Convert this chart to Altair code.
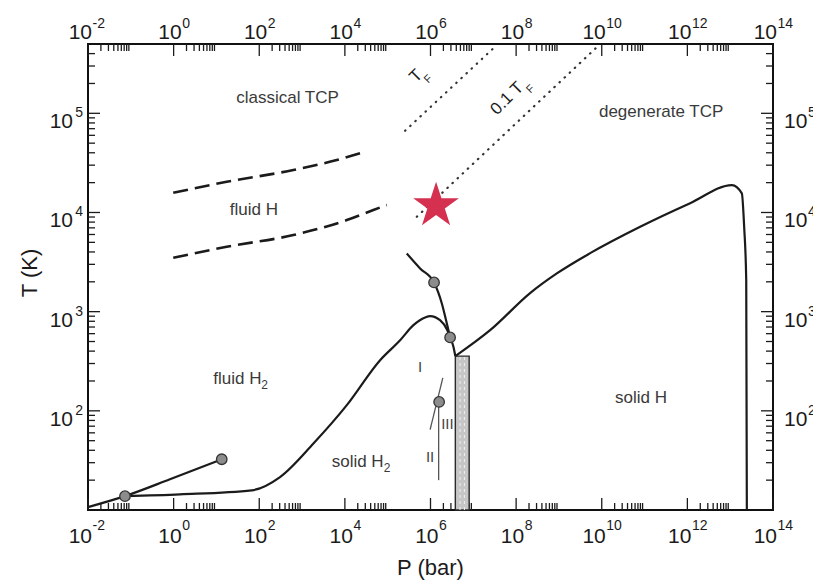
import altair as alt
import pandas as pd

W, H = 685, 466
FONT = "Liberation Sans"
INK = "#1b1b1b"
GREY_TXT = "#3a3a3a"

# ---------------- data ----------------
# sublimation + vaporisation curve (ends at the critical point)
vap_P = [0.01, 0.073, 0.82, 13.3]
vap_T = [10.7, 13.8, 20.4, 32.5]

# melting curve of H2 (from the triple point to the top of the shaded bar)
melt_P = [0.073, 1.41, 67, 306, 1840, 1.11e4, 6.64e4, 1.95e5, 3.99e5, 7.48e5,
          9.79e5, 1.67e6, 2.48e6, 2.87e6, 3.43e6, 3.8e6]
melt_T = [13.8, 14.4, 15.8, 21.5, 46.8, 114, 324, 515, 731, 873,
          902, 820, 650, 550, 442, 356]

# upper boundary coming down from high temperature
upper_P = [2.79e5, 5.71e5, 1.21e6, 1.84e6, 2.31e6, 2.87e6]
upper_T = [3860, 2730, 1970, 1210, 820, 550]

# solid H boundary
solidH_P = [3.8e6, 2.47e7, 2.12e8, 8.93e8, 5.36e9, 7.89e10, 1.16e12,
            1.10e13, 1.87e13, 2.12e13, 2.37e13, 2.45e13]
solidH_T = [356, 650, 1540, 2430, 3890, 7180, 12400,
            18900, 15600, 7180, 2080, 10]

# dashed boundaries of "fluid H"
dashU_P = [0.98, 17.4, 627, 6470, 2.48e4]
dashU_T = [15800, 20400, 26800, 33800, 40000]
dashL_P = [0.98, 17.4, 627, 1.11e4, 4.63e4, 9.53e4]
dashL_T = [3490, 4510, 5920, 8380, 10600, 11900]

# dotted Fermi-temperature lines
tf_P = [2.55e5, 2.95e7]
tf_T = [6.67e4, 4.53e5]
tf01_P = [4.79e5, 8.24e9]
tf01_T = [9060, 4.78e5]

# thin lines between solid phases I, II, III
thinA_P = [9.79e5, 1.94e6]
thinA_T = [64.7, 215]
thinB_P = [1.55e6, 1.55e6]
thinB_T = [120, 20]

# grey circles (triple, critical and other special points)
pts_P = [0.073, 13.3, 1.21e6, 2.87e6, 1.59e6]
pts_T = [13.8, 32.5, 1970, 550, 123]

# red star
star_P = [1.35e6]
star_T = [11700]

# shaded pressure band
bar_P = [3.8e6]
bar_P2 = [8.0e6]
bar_T = [10]
bar_T2 = [356]
bar_hatch_P = [4.9e6, 6.2e6]

# region labels
lab_center_txt = ["classical TCP", "degenerate TCP", "fluid H", "solid H"]
lab_center_P = [458, 2.44e11, 74.8, 8.3e10]
lab_center_T = [1.26e5, 9.25e4, 9420, 119]
lab_sub_txt = ["fluid H", "solid H"]
lab_sub_P = [8.47, 4920]
lab_sub_T = [188, 27.2]
roman_txt = ["I", "II", "III"]
roman_P = [5.7e5, 9.8e5, 2.48e6]
roman_T = [276, 34.3, 73.3]

# tick labels
x_lab_P = [1e-2, 1, 1e2, 1e4, 1e6, 1e8, 1e10, 1e12, 1e14]
x_lab_exp = ["-2", "0", "2", "4", "6", "8", "10", "12", "14"]
y_lab_T = [1e2, 1e3, 1e4, 1e5]
y_lab_exp = ["2", "3", "4", "5"]

x_major = x_lab_P
x_minor = [k * 10.0 ** e for e in range(-2, 14, 2) for k in range(2, 10)]
y_major = y_lab_T
y_minor = [k * 10.0 ** e for e in range(1, 6) for k in range(2, 10) if k * 10.0 ** e < 5e5]

# ---------------- helpers ----------------
xs = alt.Scale(type="log", domain=[1e-2, 1e14], nice=False)
ys = alt.Scale(type="log", domain=[10, 5e5], nice=False)


def X(f="P"):
    return alt.X(f"{f}:Q", scale=xs, axis=None)


def Y(f="T"):
    return alt.Y(f"{f}:Q", scale=ys, axis=None)


def curves(items):
    frames = []
    for name, P, T in items:
        frames.append(pd.DataFrame({"P": P, "T": T, "curve": name, "i": range(len(P))}))
    return pd.concat(frames, ignore_index=True)


# ---------------- ticks (inward) ----------------
xmaj = pd.DataFrame({"P": x_major})
xmin = pd.DataFrame({"P": x_minor})
ymaj = pd.DataFrame({"T": y_major})
ymin = pd.DataFrame({"T": y_minor})

tick_layers = []
for d, L in ((xmaj, 12), (xmin, 7)):
    tick_layers.append(alt.Chart(d).mark_rule(color=INK, strokeWidth=1.3).encode(
        x=X(), y=alt.value(H), y2=alt.value(H - L)))
    tick_layers.append(alt.Chart(d).mark_rule(color=INK, strokeWidth=1.3).encode(
        x=X(), y=alt.value(0), y2=alt.value(L)))
for d, L in ((ymaj, 12), (ymin, 7)):
    tick_layers.append(alt.Chart(d).mark_rule(color=INK, strokeWidth=1.3).encode(
        y=Y(), x=alt.value(0), x2=alt.value(L)))
    tick_layers.append(alt.Chart(d).mark_rule(color=INK, strokeWidth=1.3).encode(
        y=Y(), x=alt.value(W), x2=alt.value(W - L)))

# ---------------- tick labels ----------------
xlab = pd.DataFrame({"P": x_lab_P, "exp": x_lab_exp})
xlab["n"] = xlab["exp"].str.len()
label_layers = []
for n, dxj in ((1, 8), (2, 4)):
    d = xlab[xlab["n"] == n]
    for yb, ye in ((H + 33, H + 20), (-5, -16)):
        label_layers.append(alt.Chart(d).mark_text(
            text="10", align="right", baseline="alphabetic", fontSize=21, font=FONT,
            color=INK, dx=dxj).encode(x=X(), y=alt.value(yb)))
        label_layers.append(alt.Chart(d).mark_text(
            align="left", baseline="alphabetic", fontSize=14, font=FONT,
            color=INK, dx=dxj + 0.5).encode(x=X(), y=alt.value(ye), text="exp:N"))

ylab = pd.DataFrame({"T": y_lab_T, "exp": y_lab_exp})
label_layers += [
    alt.Chart(ylab).mark_text(text="10", align="right", baseline="alphabetic",
                              fontSize=21, font=FONT, color=INK, dy=15).encode(
        x=alt.value(-15), y=Y()),
    alt.Chart(ylab).mark_text(align="right", baseline="alphabetic",
                              fontSize=14, font=FONT, color=INK, dy=4).encode(
        x=alt.value(-5), y=Y(), text="exp:N"),
    alt.Chart(ylab).mark_text(text="10", align="left", baseline="alphabetic",
                              fontSize=21, font=FONT, color=INK, dy=15).encode(
        x=alt.value(W + 11), y=Y()),
    alt.Chart(ylab).mark_text(align="left", baseline="alphabetic",
                              fontSize=14, font=FONT, color=INK, dy=4).encode(
        x=alt.value(W + 35), y=Y(), text="exp:N"),
]

# axis titles
titles = [
    alt.Chart(pd.DataFrame({"t": ["P (bar)"]})).mark_text(
        fontSize=22, font=FONT, color=INK, align="center", baseline="alphabetic").encode(
        x=alt.value(W / 2), y=alt.value(H + 65), text="t:N"),
    alt.Chart(pd.DataFrame({"t": ["T (K)"]})).mark_text(
        fontSize=22, font=FONT, color=INK, align="center", baseline="alphabetic",
        angle=270).encode(x=alt.value(-51), y=alt.value(229), text="t:N"),
]

# ---------------- plot content ----------------
bar = alt.Chart(pd.DataFrame({"P": bar_P, "P2": bar_P2, "T": bar_T, "T2": bar_T2})).mark_rect(
    fill="#c6c6c6", stroke="#2a2a2a", strokeWidth=1.4).encode(
    x=X(), x2="P2:Q", y=Y(), y2="T2:Q")
hatch = alt.Chart(pd.DataFrame({"P": bar_hatch_P, "T": [bar_T[0]] * 2,
                                "T2": [bar_T2[0]] * 2})).mark_rule(
    color="#efefef", strokeWidth=1, strokeDash=[3, 3]).encode(x=X(), y=Y(), y2="T2:Q")

solid = alt.Chart(curves([("vap", vap_P, vap_T), ("melt", melt_P, melt_T),
                          ("upper", upper_P, upper_T), ("solidH", solidH_P, solidH_T)])
                  ).mark_line(color=INK, strokeWidth=2.2, interpolate="monotone").encode(
    x=X(), y=Y(), detail="curve:N", order="i:Q")

thin = alt.Chart(curves([("a", thinA_P, thinA_T), ("b", thinB_P, thinB_T)])).mark_line(
    color="#555555", strokeWidth=1.3).encode(x=X(), y=Y(), detail="curve:N", order="i:Q")

dashed = alt.Chart(curves([("u", dashU_P, dashU_T), ("l", dashL_P, dashL_T)])).mark_line(
    color=INK, strokeWidth=2.6, strokeDash=[15, 7], interpolate="monotone").encode(
    x=X(), y=Y(), detail="curve:N", order="i:Q")

dotted = alt.Chart(curves([("tf", tf_P, tf_T), ("tf01", tf01_P, tf01_T)])).mark_line(
    color="#333333", strokeWidth=2.2, strokeDash=[0.5, 6.5], strokeCap="round").encode(
    x=X(), y=Y(), detail="curve:N", order="i:Q")

points = alt.Chart(pd.DataFrame({"P": pts_P, "T": pts_T})).mark_point(
    shape="circle", size=110, filled=True, fill="#8c8c8c", stroke="#333333",
    strokeWidth=1.3, opacity=1, fillOpacity=1, strokeOpacity=1).encode(x=X(), y=Y())

STAR = ("M0,-1L0.2245,-0.309L0.9511,-0.309L0.3633,0.118L0.5878,0.809L0,0.382"
        "L-0.5878,0.809L-0.3633,0.118L-0.9511,-0.309L-0.2245,-0.309Z")
star = alt.Chart(pd.DataFrame({"P": star_P, "T": star_T})).mark_point(
    shape=STAR, size=2304, filled=True, fill="#d5304f", strokeWidth=0,
    opacity=1, fillOpacity=1).encode(x=X(), y=Y())

# region labels
lab_c = alt.Chart(pd.DataFrame({"P": lab_center_P, "T": lab_center_T, "t": lab_center_txt})).mark_text(
    fontSize=17, font=FONT, color=GREY_TXT, align="center", baseline="alphabetic").encode(
    x=X(), y=Y(), text="t:N")
sub_df = pd.DataFrame({"P": lab_sub_P, "T": lab_sub_T, "t": lab_sub_txt, "s": ["2", "2"]})
lab_s = alt.Chart(sub_df).mark_text(
    fontSize=17, font=FONT, color=GREY_TXT, align="left", baseline="alphabetic").encode(
    x=X(), y=Y(), text="t:N")
lab_s2 = [
    alt.Chart(sub_df.iloc[[0]]).mark_text(
        fontSize=12, font=FONT, color=GREY_TXT, align="left", baseline="alphabetic",
        dx=48, dy=5).encode(x=X(), y=Y(), text="s:N"),
    alt.Chart(sub_df.iloc[[1]]).mark_text(
        fontSize=12, font=FONT, color=GREY_TXT, align="left", baseline="alphabetic",
        dx=52, dy=5).encode(x=X(), y=Y(), text="s:N"),
]
roman = alt.Chart(pd.DataFrame({"P": roman_P, "T": roman_T, "t": roman_txt})).mark_text(
    fontSize=15, font=FONT, color="#444444", align="center", baseline="middle").encode(
    x=X(), y=Y(), text="t:N")

# rotated Fermi labels
rot_main = alt.Chart(pd.DataFrame({"P": [4.61e5, 6.17e7], "T": [2.38e5, 1.41e5],
                                   "t": ["T", "0.1 T"]})).mark_text(
    fontSize=17, font=FONT, color=INK, align="center", baseline="middle", angle=315).encode(
    x=X(), y=Y(), text="t:N")
rot_sub = alt.Chart(pd.DataFrame({"P": [8.93e5, 2.2e8], "T": [2.2e5, 1.75e5],
                                  "t": ["F", "F"]})).mark_text(
    fontSize=11, font=FONT, color=INK, align="center", baseline="middle", angle=315).encode(
    x=X(), y=Y(), text="t:N")

chart = alt.layer(
    *tick_layers, bar, hatch, thin, solid, dashed, dotted, points, star,
    lab_c, lab_s, *lab_s2, roman, rot_main, rot_sub, *label_layers, *titles
).properties(
    width=W, height=H,
    padding={"left": 88, "top": 44, "right": 40, "bottom": 74},
    autosize=alt.AutoSizeParams(type="none"),
    background="white",
).configure_view(stroke="#111111", strokeWidth=2)

chart.save("out.html", embed_options={"renderer": "svg", "actions": False})
